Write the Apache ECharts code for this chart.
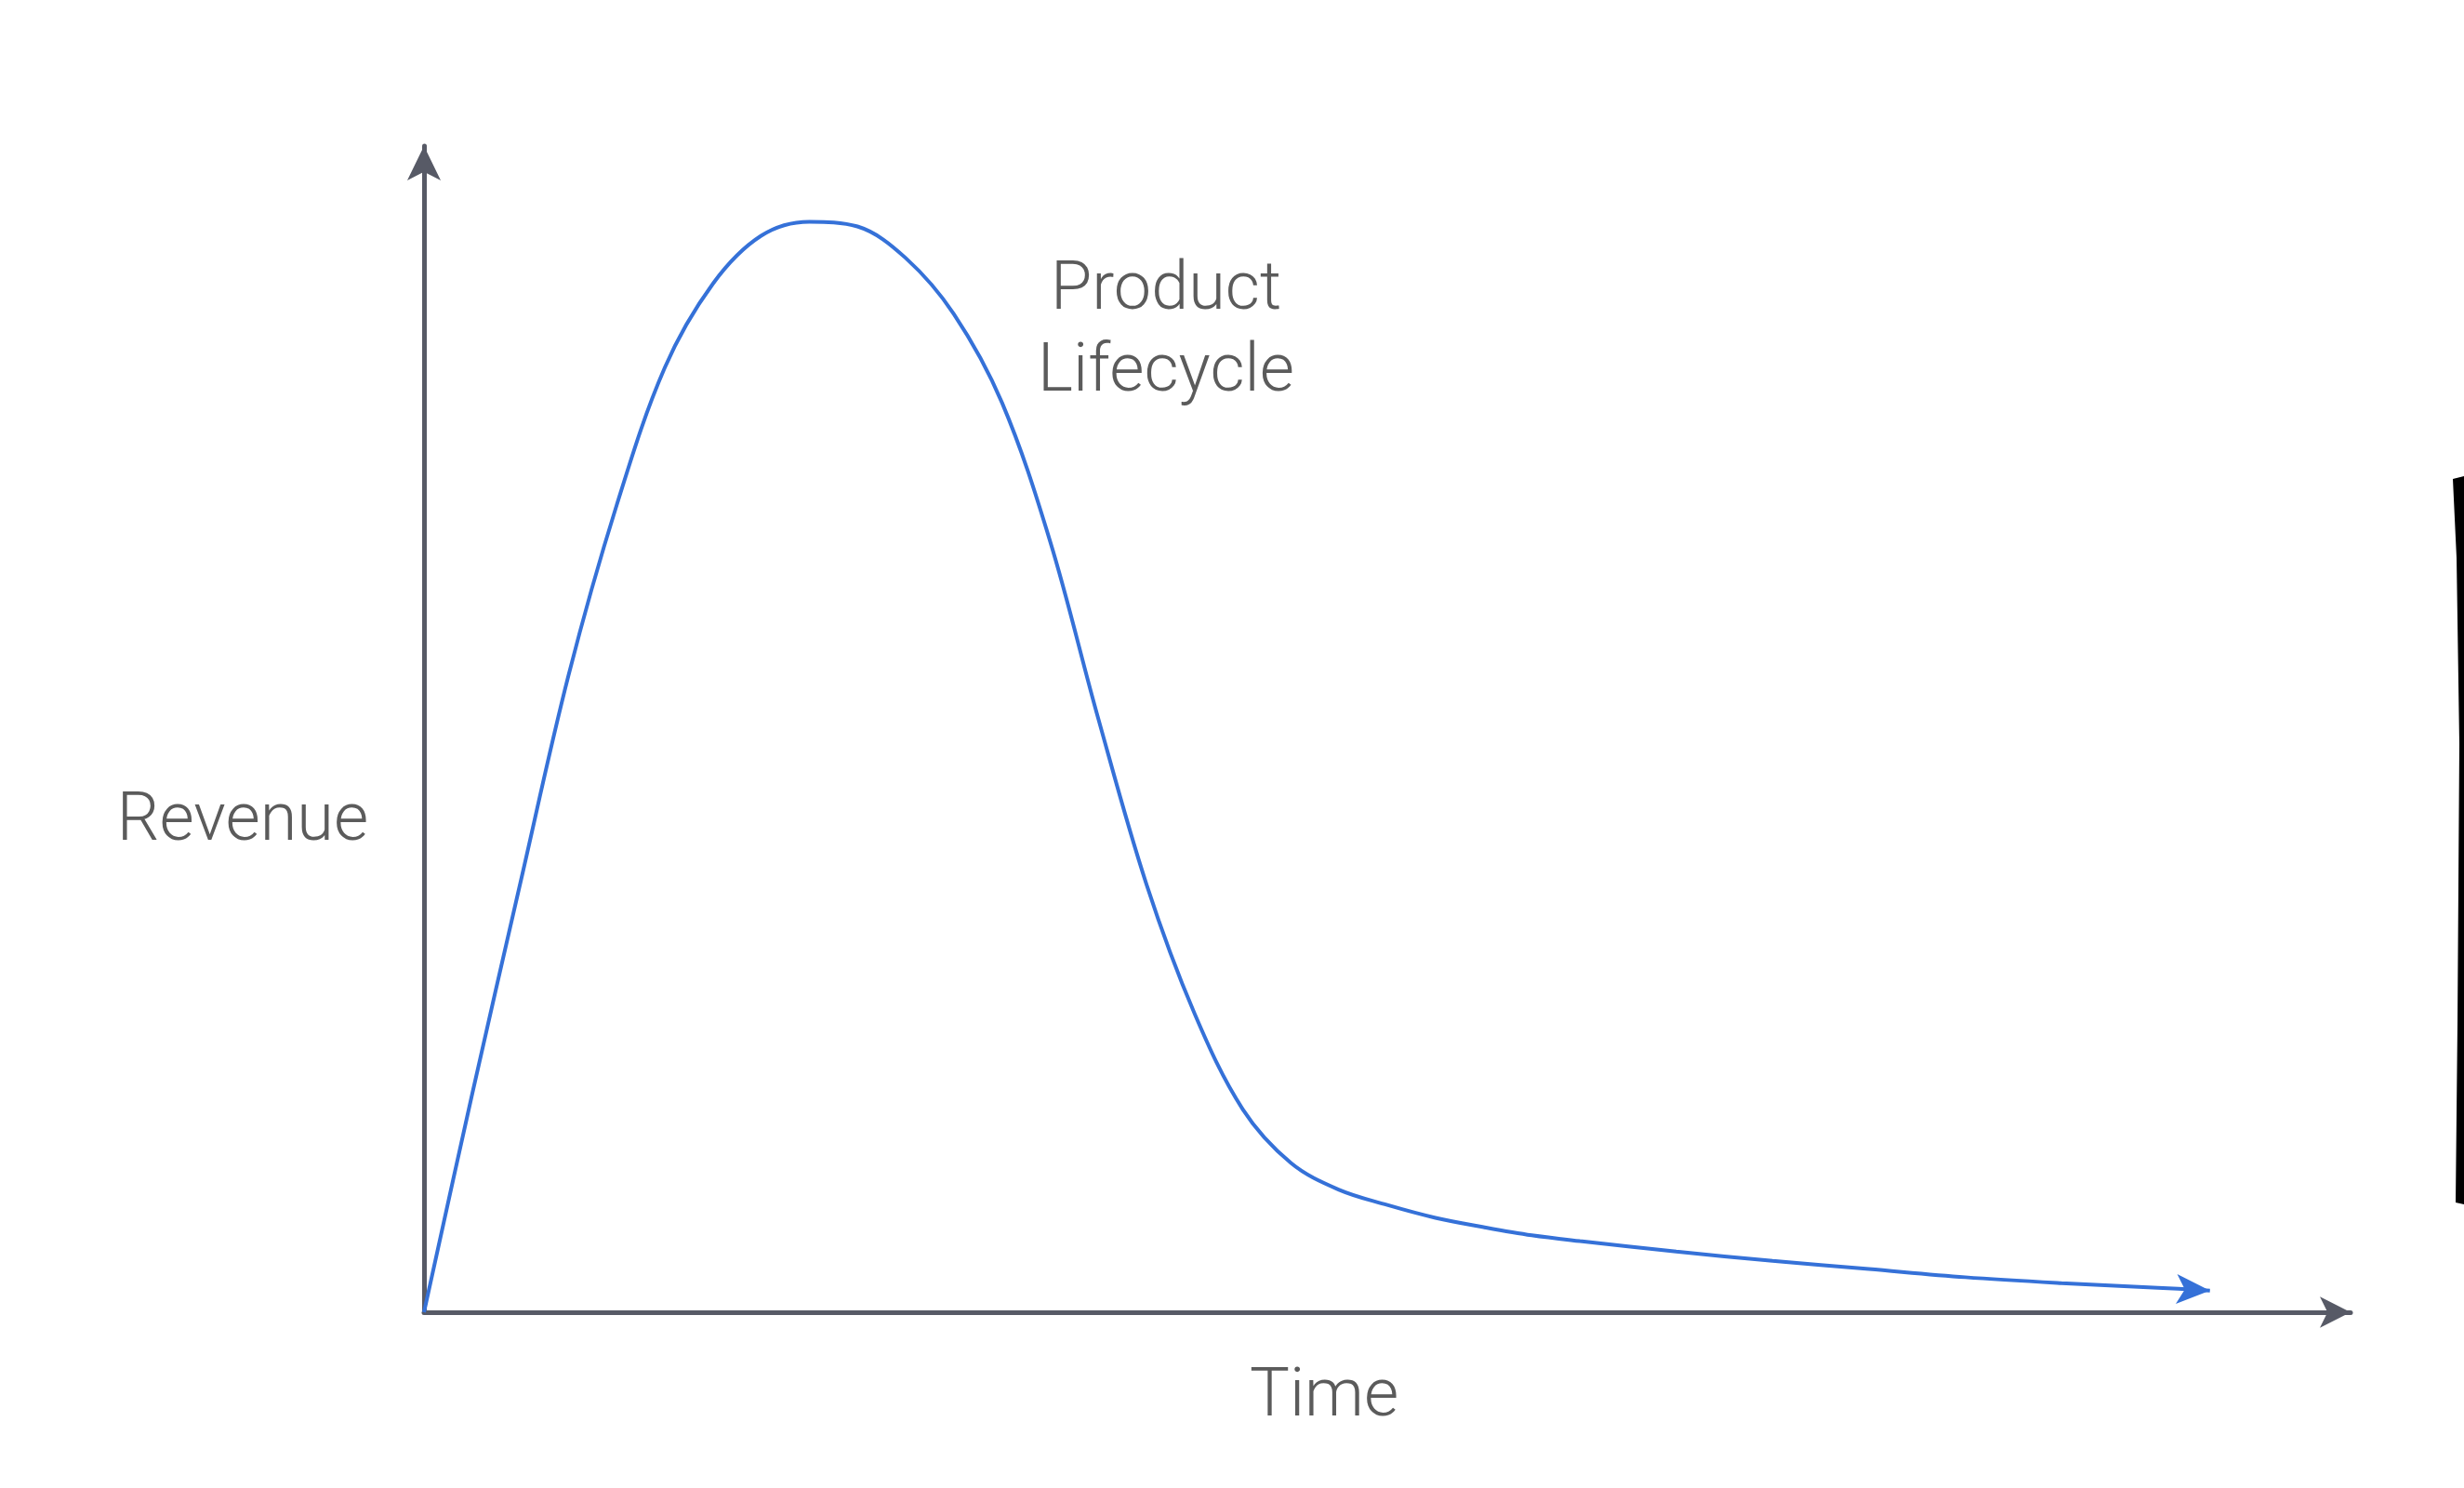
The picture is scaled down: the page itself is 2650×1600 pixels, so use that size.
<!DOCTYPE html>
<html>
<head>
<meta charset="utf-8">
<script src="https://cdn.jsdelivr.net/npm/echarts@6/dist/echarts.min.js"></script>
<style>
html,body{margin:0;padding:0;background:#ffffff;}
#chart{width:2650px;height:1600px;}
</style>
</head>
<body>
<div id="chart"></div>
<script>
// Normalised time (0-100) and revenue (0-100)
var timeValues = [0, 2.5, 5, 7.5, 10, 12.5, 15, 17.5, 20, 22.5, 25, 27.5, 30, 32.5, 35, 37.5, 40, 42.5, 45, 47.5, 50, 52.5, 55, 57.5, 60, 65, 70, 75, 80, 85, 90, 92.7];
var revenueValues = [0, 18.7, 36.8, 54.6, 69.2, 81.0, 88.2, 92.3, 93.5, 93.1, 90.4, 85.6, 78.0, 66.1, 50.9, 36.7, 25.6, 17.4, 12.8, 10.5, 9.2, 8.1, 7.3, 6.6, 6.1, 5.2, 4.4, 3.7, 3.0, 2.5, 2.1, 1.85];
var xAxisName = 'Time';
var yAxisName = 'Revenue';
var curveLabel = 'Product\nLifecycle';

var AXIS_COLOR = '#575a66';
var LINE_COLOR = '#3571d8';
var TEXT_COLOR = '#5b5b5b';
var FONT = 'Roboto, "Liberation Sans", Arial, sans-serif';

var seriesData = timeValues.map(function (t, i) {
  var item = { value: [t, revenueValues[i]] };
  if (i === timeValues.length - 1) {
    item.symbol = 'arrow';
    item.symbolSize = [24, 36];
    item.symbolRotate = -92.8;
    item.itemStyle = { color: LINE_COLOR, borderWidth: 0 };
  }
  return item;
});

var chart = echarts.init(document.getElementById('chart'));
chart.setOption({
  animation: false,
  backgroundColor: '#ffffff',
  grid: { left: 456, right: 122, top: 157, bottom: 189, containLabel: false },
  xAxis: {
    type: 'value', min: 0, max: 100,
    axisLine: { show: true, symbol: ['none', 'arrow'], symbolSize: [25, 33],
      lineStyle: { color: AXIS_COLOR, width: 5 } },
    axisTick: { show: false }, axisLabel: { show: false }, splitLine: { show: false }
  },
  yAxis: {
    type: 'value', min: 0, max: 100,
    axisLine: { show: true, symbol: ['none', 'arrow'], symbolSize: [27, 37],
      lineStyle: { color: AXIS_COLOR, width: 5 } },
    axisTick: { show: false }, axisLabel: { show: false }, splitLine: { show: false }
  },
  series: [{
    type: 'line',
    data: seriesData,
    smooth: 0.35,
    symbol: 'none',
    showAllSymbol: true,
    lineStyle: { color: LINE_COLOR, width: 4 },
    itemStyle: { color: LINE_COLOR },
    emphasis: { disabled: true },
    silent: true,
    z: 3
  }],
  graphic: [
    { type: 'text', x: 261, y: 885,
      style: { text: yAxisName, fill: TEXT_COLOR, font: '300 72px ' + FONT, align: 'center', verticalAlign: 'middle' } },
    { type: 'text', x: 1424, y: 1504,
      style: { text: xAxisName, fill: TEXT_COLOR, font: '300 72px ' + FONT, align: 'center', verticalAlign: 'middle' } },
    { type: 'text', x: 1254, y: 358,
      style: { text: curveLabel, fill: TEXT_COLOR, font: '300 72px ' + FONT, lineHeight: 88, align: 'center', verticalAlign: 'middle' } },
    { type: 'polygon',
      shape: { points: [[2638, 515], [2650, 512], [2650, 1295], [2641, 1293], [2643, 1100], [2645, 800], [2642, 600]] },
      style: { fill: '#000000' } }
  ]
});
</script>
</body>
</html>
